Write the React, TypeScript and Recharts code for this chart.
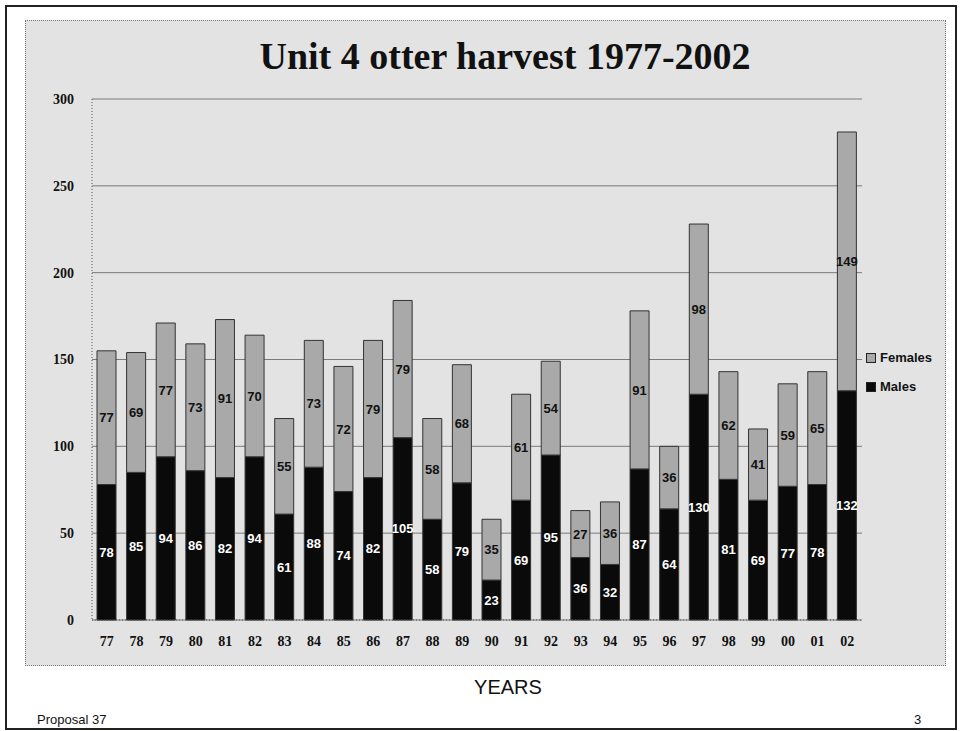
import React from 'react';
import { BarChart, Bar, XAxis, YAxis, CartesianGrid, Legend, LabelList } from 'recharts';

const years = ['77', '78', '79', '80', '81', '82', '83', '84', '85', '86', '87', '88', '89', '90', '91', '92', '93', '94', '95', '96', '97', '98', '99', '00', '01', '02'];
const males = [78, 85, 94, 86, 82, 94, 61, 88, 74, 82, 105, 58, 79, 23, 69, 95, 36, 32, 87, 64, 130, 81, 69, 77, 78, 132];
const females = [77, 69, 77, 73, 91, 70, 55, 73, 72, 79, 79, 58, 68, 35, 61, 54, 27, 36, 91, 36, 98, 62, 41, 59, 65, 149];
const yTicks = [0, 50, 100, 150, 200, 250, 300];

const data = years.map((y, i) => ({ year: y, males: males[i], females: females[i] }));

const serif = '"Liberation Serif", "DejaVu Serif", serif';
const sans = '"Liberation Sans", Arial, sans-serif';

const LegendBox = () => (
    <div style={{ fontFamily: sans, fontWeight: 'bold', fontSize: 13, color: '#111' }}>
        {[
            { label: 'Females', color: '#a9a9a9' },
            { label: 'Males', color: '#0a0a0a' },
        ].map((item) => (
            <div key={item.label} style={{ display: 'flex', alignItems: 'center', height: 29 }}>
                <span
                    style={{
                        display: 'inline-block',
                        width: 8,
                        height: 8,
                        background: item.color,
                        border: '1px solid #222',
                        marginRight: 4,
                    }}
                />
                {item.label}
            </div>
        ))}
    </div>
);

export default function App() {
    return (
        <div style={{ position: 'absolute', left: 0, top: 0, width: 960, height: 731, background: '#fff', overflow: 'hidden' }}>
            <div style={{ position: 'absolute', left: 5, top: 5, width: 948, height: 721, border: '2px solid #222' }} />
            <div style={{ position: 'absolute', left: 25, top: 20, width: 919, height: 644, background: '#e3e3e3', border: '1px dotted #777' }} />
            <div
                style={{
                    position: 'absolute',
                    left: 0,
                    width: 1010,
                    top: 34,
                    textAlign: 'center',
                    fontFamily: serif,
                    fontWeight: 'bold',
                    fontSize: 38,
                    color: '#111',
                    lineHeight: '44px',
                }}
            >
                Unit 4 otter harvest 1977-2002
            </div>
            <div style={{ position: 'absolute', left: 0, top: 0 }}>
                <BarChart width={960} height={731} data={data} margin={{ top: 99, right: 98, left: 52, bottom: 81 }} barSize={19}>
                    <CartesianGrid vertical={false} stroke="#7a7a7a" strokeWidth={1} />
                    <XAxis
                        dataKey="year"
                        height={30}
                        tickLine={false}
                        axisLine={{ stroke: '#555', strokeDasharray: '1 2' }}
                        tick={{ fill: '#111', fontFamily: serif, fontWeight: 'bold', fontSize: 14 }}
                        tickMargin={10}
                    />
                    <YAxis
                        width={40}
                        domain={[0, 300]}
                        ticks={yTicks}
                        tickLine={false}
                        axisLine={{ stroke: '#555', strokeDasharray: '1 2' }}
                        tick={{ fill: '#111', fontFamily: serif, fontWeight: 'bold', fontSize: 14 }}
                        tickMargin={12}
                    />
                    <Legend
                        layout="vertical"
                        align="center"
                        verticalAlign="middle"
                        wrapperStyle={{ left: 866, top: 343, width: 90 }}
                        content={() => <LegendBox />}
                    />
                    <Bar dataKey="males" stackId="a" fill="#0a0a0a" stroke="#333" strokeWidth={1} isAnimationActive={false}>
                        <LabelList dataKey="males" position="center" fill="#fff" style={{ fontFamily: sans, fontWeight: 'bold', fontSize: 13 }} />
                    </Bar>
                    <Bar dataKey="females" stackId="a" fill="#a9a9a9" stroke="#333" strokeWidth={1} isAnimationActive={false}>
                        <LabelList dataKey="females" position="center" fill="#111" style={{ fontFamily: sans, fontWeight: 'bold', fontSize: 13 }} />
                    </Bar>
                </BarChart>
            </div>
            <div style={{ position: 'absolute', left: 0, width: 1016, top: 676, textAlign: 'center', fontFamily: sans, fontSize: 20, color: '#111' }}>
                YEARS
            </div>
            <div style={{ position: 'absolute', left: 37, top: 712, fontFamily: sans, fontSize: 13, color: '#111' }}>Proposal 37</div>
            <div style={{ position: 'absolute', left: 914, top: 712, fontFamily: sans, fontSize: 13, color: '#111' }}>3</div>
        </div>
    );
}
